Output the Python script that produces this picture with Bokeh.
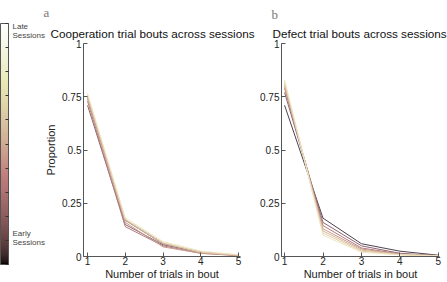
import numpy as np
from bokeh.plotting import figure
from bokeh.layouts import row
from bokeh.models import Range1d, FixedTicker, LinearColorMapper, ColorBar, Title
from bokeh.embed import file_html
from bokeh.resources import INLINE

# ---------------- data ----------------
trials = [1, 2, 3, 4, 5]
tick_vals = [0, 0.25, 0.5, 0.75, 1]
tick_text = ["0", "0.25", "0.5", "0.75", "1"]
cbar_minor_ticks = [0.0, 0.1, 0.2, 0.3, 0.4, 0.5, 0.6, 0.7, 0.8, 0.9, 1.0]
cbar_label_pos = [0.112, 0.968]
cbar_label_text = ["Early\nSessions", "Late\nSessions"]

# sessions ordered early -> late
session_colors = ["#4e4150", "#8c6670", "#b37a7c", "#c99c8c",
                  "#d6b79c", "#e2cfab", "#ede5c0"]

coop_props = [
    [0.75, 0.17, 0.060, 0.020, 0.006],
    [0.71, 0.15, 0.055, 0.020, 0.005],
    [0.73, 0.14, 0.050, 0.015, 0.004],
    [0.74, 0.16, 0.045, 0.015, 0.005],
    [0.75, 0.17, 0.060, 0.020, 0.006],
    [0.76, 0.175, 0.065, 0.020, 0.007],
    [0.765, 0.18, 0.070, 0.025, 0.008],
]
defect_props = [
    [0.71, 0.18, 0.060, 0.025, 0.006],
    [0.77, 0.16, 0.050, 0.015, 0.004],
    [0.79, 0.145, 0.040, 0.012, 0.004],
    [0.80, 0.13, 0.035, 0.010, 0.003],
    [0.81, 0.12, 0.030, 0.010, 0.003],
    [0.82, 0.11, 0.025, 0.008, 0.003],
    [0.83, 0.10, 0.020, 0.008, 0.003],
]

FONT = "Liberation Sans"
H = 282
FRAME_TOP, FRAME_BOTTOM = 42, 258

# ---------------- MATLAB-like "pink" palette for the colour bar ----------------
t = np.linspace(0, 1, 256)
hot_r = np.clip(t / 0.375, 0, 1)
hot_g = np.clip((t - 0.375) / 0.375, 0, 1)
hot_b = np.clip((t - 0.75) / 0.25, 0, 1)
pr = np.sqrt((2 * t + hot_r) / 3)
pg = np.sqrt((2 * t + hot_g) / 3)
pb = np.sqrt((2 * t + hot_b) / 3)
pink_palette = ["#%02x%02x%02x" % (int(r * 255), int(g * 255), int(b * 255))
                for r, g, b in zip(pr, pg, pb)]


def make_panel(width, xr, border_left, border_right, props, title, title_offset,
               ylabel, letter, letter_offset, letter_standoff):
    p = figure(width=width, height=H, x_range=Range1d(*xr), y_range=Range1d(0, 1),
               output_backend="svg", toolbar_location=None,
               min_border_left=border_left, min_border_right=border_right,
               min_border_top=FRAME_TOP, min_border_bottom=H - FRAME_BOTTOM)
    p.grid.visible = False
    p.outline_line_color = None
    p.border_fill_color = "white"
    p.background_fill_color = "white"
    for vals, col in zip(props, session_colors):
        p.line(trials, vals, line_color=col, line_width=1)
    p.xaxis.ticker = FixedTicker(ticks=trials)
    p.yaxis.ticker = FixedTicker(ticks=tick_vals)
    p.yaxis.major_label_overrides = {v: s for v, s in zip(tick_vals, tick_text)}
    for ax in (p.xaxis[0], p.yaxis[0]):
        ax.axis_line_color = "#555555"
        ax.major_tick_line_color = "#555555"
        ax.major_tick_in = 4
        ax.major_tick_out = 0
        ax.minor_tick_line_color = None
        ax.major_label_text_font = FONT
        ax.major_label_text_font_size = "10px"
        ax.major_label_text_color = "#222222"
        ax.major_label_standoff = 2
        ax.axis_label_text_font = FONT
        ax.axis_label_text_font_size = "11px"
        ax.axis_label_text_font_style = "normal"
        ax.axis_label_text_color = "#222222"
    p.xaxis.major_label_standoff = 0
    p.xaxis.axis_label = "Number of trials in bout"
    p.xaxis.axis_label_standoff = 0
    if ylabel:
        p.yaxis.axis_label = ylabel
        p.yaxis.axis_label_standoff = 2
    # panel letter is the outermost title, the chart title sits next to the frame
    p.title.text = letter
    p.title.text_font = "Liberation Serif"
    p.title.text_font_size = "13px"
    p.title.text_font_style = "normal"
    p.title.text_color = "#777777"
    p.title.text_line_height = 0.7
    p.title.align = "left"
    p.title.offset = letter_offset
    p.title.standoff = letter_standoff
    p.add_layout(Title(text=title, text_font=FONT, text_font_size="11.7px",
                       text_font_style="normal", text_color="#111111", align="left",
                       offset=title_offset, standoff=7), "above")
    return p


left = make_panel(255, (0.894, 5.05), 83, 15, coop_props,
                  "Cooperation trial bouts across sessions", -33, "Proportion",
                  "a", -40, 4)

# colour bar (session scale) at the far left, outside the frame
cbar = ColorBar(color_mapper=LinearColorMapper(palette=pink_palette, low=0, high=1),
                orientation="vertical", location=(-83, -8), width=8, height=241,
                padding=0, margin=0,
                ticker=FixedTicker(ticks=cbar_label_pos, minor_ticks=cbar_minor_ticks),
                major_label_overrides={v: s for v, s in zip(cbar_label_pos, cbar_label_text)},
                major_label_text_font=FONT, major_label_text_font_size="8px",
                major_label_text_color="#444444", major_label_text_line_height=1.0,
                major_tick_line_color=None, major_tick_in=0, major_tick_out=0,
                minor_tick_line_color="#333333", minor_tick_in=3, minor_tick_out=0,
                bar_line_color="#555555", border_line_color=None,
                background_fill_alpha=0, label_standoff=4)
left.add_layout(cbar, "center")

right = make_panel(192, (0.92, 5.03), 26, 8, defect_props,
                   "Defect trial bouts across sessions", -9, None,
                   "b", -10, 0)

layout = row(left, right)
layout.spacing = 0

open("out.html", "w").write(file_html(layout, INLINE))
